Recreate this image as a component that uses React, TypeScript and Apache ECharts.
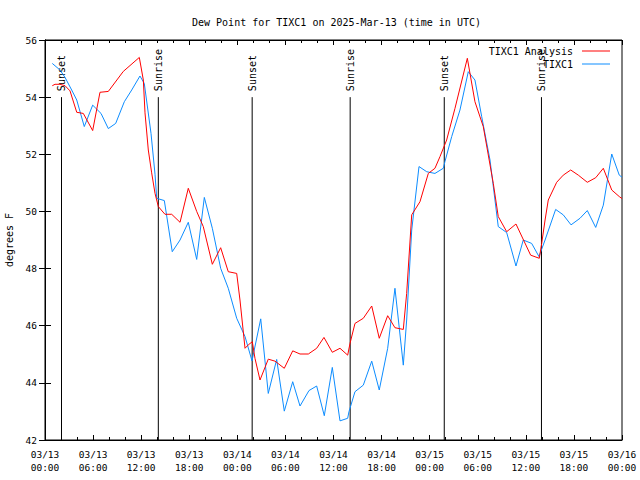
import React, { useEffect, useRef } from "react";
import * as echarts from "echarts";

const titleText = "Dew Point for TIXC1 on 2025-Mar-13 (time in UTC)";
const seriesNames = ["TIXC1 Analysis", "TIXC1"];

// hours since 2025-03-13 00:00 UTC
const redHours = [0.91,1.25,1.87,2.5,3.12,3.96,4.78,5.95,6.86,7.9,9.77,11.77,12.27,12.48,12.89,13.31,13.73,14.14,14.97,15.81,16.85,17.88,18.93,19.75,20.88,21.92,22.87,23.92,24.33,24.96,25.37,25.87,26.2,26.83,27.86,28.7,29.86,30.91,31.82,32.86,33.9,34.81,35.85,36.81,37.77,38.06,38.68,39.72,40.77,41.71,42.76,43.67,44.71,45.13,45.76,46.79,47.83,48.66,49.29,50.12,51.16,52.7,53.65,54.69,55.94,56.56,57.61,58.77,60.6,61.68,61.98,62.4,62.8,63.85,64.67,65.6,66.55,67.67,68.72,69.67,70.72,71.66,72];
const redValues = [54.4,54.45,54.45,54.4,54.22,53.47,53.43,52.83,54.17,54.2,54.9,55.39,54.6,53.45,52.15,51.35,50.63,50.17,49.9,49.9,49.62,50.81,50.0,49.47,48.15,48.73,47.89,47.83,46.9,45.21,45.33,45.44,44.86,44.1,44.83,44.76,44.51,45.12,45.01,45.01,45.21,45.59,45.07,45.21,44.97,45.38,46.08,46.26,46.69,45.56,46.35,45.93,45.87,47.13,49.88,50.34,51.33,51.51,51.92,52.5,53.61,55.36,53.84,52.97,50.98,49.82,49.29,49.56,48.47,48.36,48.88,49.7,50.4,51.02,51.27,51.45,51.27,51.02,51.18,51.51,50.75,50.52,50.45];

const blueHours = [0.91,1.87,2.5,3.33,3.96,4.9,5.95,6.99,7.9,8.82,9.9,10.82,11.85,12.39,13.23,13.73,13.94,14.89,15.88,16.85,17.88,18.93,19.88,20.88,21.92,22.87,23.92,24.96,25.83,26.92,27.86,28.91,29.86,30.91,31.82,32.94,33.9,34.85,35.85,36.81,37.77,37.93,38.68,39.72,40.77,41.71,42.76,43.67,44.71,45.13,45.76,46.67,47.63,48.66,49.7,49.91,50.75,51.78,52.82,53.65,54.49,55.53,56.56,57.61,58.77,59.68,60.73,61.64,62.4,63.72,64.67,65.64,66.76,67.67,68.72,69.67,70.72,71.66,72];
const blueValues = [55.18,54.95,54.69,54.25,53.9,52.97,53.72,53.43,52.9,53.08,53.84,54.25,54.74,54.48,52.73,51.3,50.46,50.38,48.59,49.0,49.62,48.32,50.49,49.41,48.01,47.31,46.26,45.62,44.77,46.24,43.63,44.82,43.01,44.04,43.19,43.73,43.89,42.85,44.54,42.67,42.76,42.99,43.69,43.92,44.76,43.75,45.21,47.31,44.62,46.2,49.35,51.57,51.39,51.33,51.51,51.75,52.62,53.55,54.89,54.6,53.32,51.8,49.47,49.26,48.09,49.0,48.88,48.42,49.0,50.07,49.88,49.53,49.76,50.03,49.44,50.22,52.01,51.27,51.2];

const sunHours = [2.06, 14.14, 25.85, 38.08, 49.82, 61.95];
const sunLabels = ["Sunset", "Sunrise", "Sunset", "Sunrise", "Sunset", "Sunrise"];
const sunLineTop = 54;

const xMin = 0, xMax = 72, xStep = 6;
const yMin = 42, yMax = 56, yStep = 2;

const FONT = "DejaVu Sans Mono";

function fmtHour(h: number): string {
  const day = 13 + Math.floor(h / 24);
  const hr = Math.round(h % 24);
  return `03/${String(day).padStart(2, "0")}\n${String(hr).padStart(2, "0")}:00`;
}

export default function App() {
  const ref = useRef<HTMLDivElement>(null);
  useEffect(() => {
    if (!ref.current) return;
    const chart = echarts.init(ref.current, null, { renderer: "svg" });
    const red = redHours.map((h, i) => [h, redValues[i]]);
    const blue = blueHours.map((h, i) => [h, blueValues[i]]);
    const sun = sunHours.map((h) => [h, yMin]);
    const txt = { fontFamily: FONT, fontSize: 10, color: "#000" };
    const xCommon = {
      type: "value" as const,
      min: xMin,
      max: xMax,
      interval: xStep,
      splitLine: { show: false },
      axisLine: { show: true, lineStyle: { color: "#000", width: 1 } },
      axisTick: { show: true, inside: true, length: 5, lineStyle: { color: "#000" } },
      minorTick: { show: true, splitNumber: 3, length: 3, lineStyle: { color: "#000" } },
    };
    const yCommon = {
      type: "value" as const,
      min: yMin,
      max: yMax,
      interval: yStep,
      splitLine: { show: false },
      axisLine: { show: true, lineStyle: { color: "#000", width: 1 } },
      axisTick: { show: true, inside: true, length: 6, lineStyle: { color: "#000" } },
    };
    chart.setOption({
      animation: false,
      backgroundColor: "#fff",
      title: {
        text: titleText,
        left: 187,
        top: 12,
        textStyle: { ...txt, fontWeight: "normal" },
      },
      grid: {
        left: 45,
        right: 18,
        top: 40,
        bottom: 40,
        show: true,
        borderColor: "#000",
        borderWidth: 1,
        containLabel: false,
        outerBoundsMode: "none",
      },
      legend: [
        {
          data: [seriesNames[0]],
          right: 25,
          top: 41,
          orient: "vertical",
          align: "right",
          icon: "rect",
          itemWidth: 28,
          itemHeight: 1,
          itemGap: 0,
          textStyle: { ...txt, padding: [0, 4, 0, 0] },
        },
        {
          data: [seriesNames[1]],
          right: 25,
          top: 54,
          orient: "vertical",
          align: "right",
          icon: "rect",
          itemWidth: 28,
          itemHeight: 1,
          itemGap: 0,
          textStyle: { ...txt, padding: [0, 4, 0, 0] },
        },
      ],
      xAxis: [
        {
          ...xCommon,
          position: "bottom",
          axisLabel: {
            ...txt,
            fontSize: 9.5,
            margin: 8,
            lineHeight: 13,
            formatter: (v: number) => fmtHour(v),
          },
        },
        { ...xCommon, position: "top", axisLabel: { show: false } },
      ],
      yAxis: [
        {
          ...yCommon,
          position: "left",
          name: "degrees F",
          nameLocation: "middle",
          nameGap: 30,
          nameTextStyle: txt,
          axisLabel: { ...txt, fontSize: 9.5, margin: 8 },
        },
        { ...yCommon, position: "right", axisLabel: { show: false } },
      ],
      series: [
        {
          type: "custom",
          name: "sun",
          xAxisIndex: 0,
          yAxisIndex: 0,
          clip: false,
          z: 1,
          silent: true,
          data: sun,
          renderItem: (params: any, api: any) => {
            const t = api.value(0);
            const p0 = api.coord([t, yMin]);
            const p1 = api.coord([t, sunLineTop]);
            return {
              type: "group",
              children: [
                {
                  type: "line",
                  shape: { x1: p0[0], y1: p0[1], x2: p1[0], y2: p1[1] },
                  style: { stroke: "#000", lineWidth: 1 },
                },
                {
                  type: "text",
                  x: p1[0],
                  y: p1[1] - 6,
                  rotation: Math.PI / 2,
                  style: {
                    text: sunLabels[params.dataIndex],
                    font: `10px "${FONT}"`,
                    fill: "#000",
                    align: "left",
                    verticalAlign: "middle",
                  },
                },
              ],
            };
          },
        },
        {
          type: "line",
          name: seriesNames[0],
          data: red,
          showSymbol: false,
          symbol: "none",
          z: 3,
          color: "#ff0000",
          lineStyle: { color: "#ff0000", width: 1 },
        },
        {
          type: "line",
          name: seriesNames[1],
          data: blue,
          showSymbol: false,
          symbol: "none",
          z: 2,
          color: "#0c8cff",
          lineStyle: { color: "#0c8cff", width: 1 },
        },
      ],
    });
    return () => chart.dispose();
  }, []);
  return <div ref={ref} style={{ width: 640, height: 480, position: "absolute", left: 0, top: 0 }} />;
}
